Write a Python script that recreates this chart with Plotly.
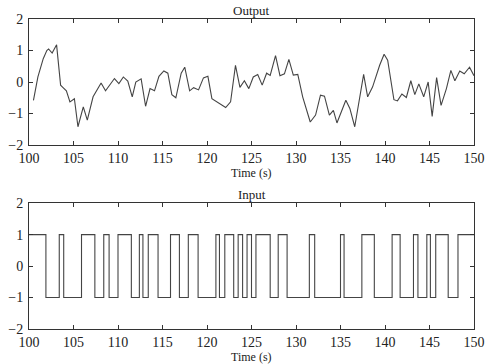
import plotly.graph_objects as go
from plotly.subplots import make_subplots

# Output signal
out_t = [100.5, 101.0, 101.6, 102.0, 102.2, 102.6, 103.1, 103.55, 103.8, 104.2, 104.6, 105.1,
         105.5, 106.1, 106.55, 107.2, 108.1, 108.6, 109.6, 110.1, 110.6, 111.1, 111.6, 112.0,
         112.6, 113.1, 113.6, 114.1, 114.6, 115.15, 115.6, 116.05, 116.5, 117.1, 117.5, 118.05,
         118.5, 119.05, 119.6, 120.1, 120.55, 122.1, 122.65, 123.2, 123.7, 124.2, 124.7, 125.2,
         125.7, 126.2, 126.7, 127.1, 127.7, 128.2, 128.7, 129.2, 129.7, 130.2, 130.75, 131.6,
         132.2, 132.75, 133.2, 133.75, 134.2, 134.6, 135.6, 136.05, 136.6, 137.6, 138.05, 138.6,
         139.4, 139.9, 140.3, 141.0, 141.4, 141.9, 142.4, 142.9, 143.35, 143.8, 144.35, 144.85,
         145.3, 145.8, 146.3, 146.9, 147.4, 147.85, 148.4, 148.9, 149.5, 150.0]
out_y = [-0.58, 0.16, 0.74, 1.0, 1.05, 0.92, 1.18, -0.1, -0.17, -0.28, -0.63, -0.53,
         -1.42, -0.79, -1.21, -0.47, -0.03, -0.28, 0.11, -0.05, 0.16, 0.03, -0.47, 0.0,
         0.1, -0.77, -0.21, -0.28, 0.18, 0.35, 0.28, -0.4, -0.5, 0.28, 0.47, -0.28,
         -0.18, -0.25, 0.13, 0.18, -0.53, -0.81, -0.63, 0.53, -0.17, 0.04, -0.21, 0.16,
         0.24, -0.1, 0.28, 0.21, 0.84, 0.2, 0.26, 0.72, 0.22, 0.24, -0.47, -1.27,
         -1.05, -0.42, -0.45, -1.05, -0.9, -1.3, -0.58, -0.84, -1.42, 0.24, -0.47, -0.16,
         0.53, 0.88, 0.69, -0.56, -0.6, -0.38, -0.49, 0.04, -0.4, -0.06, -0.47, 0.0,
         -1.09, 0.14, -0.74, -0.21, 0.37, 0.04, 0.35, 0.26, 0.47, 0.2]

# Input signal: switching times and levels (step-wise)
in_t = [100.0, 101.9, 103.4, 103.9, 105.9, 107.4, 108.4, 109.0, 110.0, 111.5, 112.4, 112.8,
        113.4, 114.5, 115.9, 116.9, 117.9, 119.0, 121.0, 121.4, 122.0, 123.0, 123.5, 124.0,
        124.5, 125.0, 125.5, 127.1, 128.0, 129.0, 131.5, 132.1, 135.0, 135.4, 137.4, 138.8,
        140.8, 141.7, 143.2, 143.7, 144.7, 145.1, 145.7, 147.1, 148.2, 150.0]
in_y = [1, -1, 1, -1, 1, -1, 1, -1, 1, -1, 1, -1,
        1, -1, 1, -1, 1, -1, 1, -1, 1, -1, 1, -1,
        1, -1, 1, -1, 1, -1, 1, -1, 1, -1, 1, -1,
        1, -1, 1, -1, 1, -1, 1, -1, 1, 1]

x_ticks = [100, 105, 110, 115, 120, 125, 130, 135, 140, 145, 150]
y_ticks = [-2, -1, 0, 1, 2]
titles = ["Output", "Input"]
xlabel = "Time (s)"

FONT = "Liberation Serif"
INK = "#333333"

fig = make_subplots(rows=2, cols=1)
fig.add_trace(go.Scatter(x=out_t, y=out_y, mode="lines",
                         line=dict(color="#444444", width=1.1)), row=1, col=1)
fig.add_trace(go.Scatter(x=in_t, y=in_y, mode="lines", line_shape="hv",
                         line=dict(color="#444444", width=1.1)), row=2, col=1)

axis_common = dict(showgrid=False, zeroline=False, showline=True, linecolor=INK,
                   linewidth=1, mirror="ticks", ticks="inside", ticklen=4,
                   tickcolor=INK, tickfont=dict(family=FONT, size=14, color="#222222"))

fig.update_xaxes(range=[100, 150], tickvals=x_ticks, ticklabeloverflow="allow",
                 ticklabelstandoff=0, **axis_common)
fig.update_yaxes(range=[-2, 2], tickvals=y_ticks, ticklabelstandoff=2, **axis_common)

fig.update_layout(
    width=493, height=364,
    margin=dict(l=21, r=8, t=19, b=35),
    paper_bgcolor="white", plot_bgcolor="white",
    showlegend=False,
    yaxis=dict(domain=[0.5935, 1.0]),
    yaxis2=dict(domain=[0.0, 0.406]),
)

for i, (xr, yr) in enumerate([("x", "y"), ("x2", "y2")]):
    fig.add_annotation(text=titles[i], x=0.5, y=1.0, xref=f"{xr} domain", yref=f"{yr} domain",
                       xanchor="center", yanchor="bottom", showarrow=False, yshift=-1,
                       font=dict(family=FONT, size=13, color="#222222"))
    fig.add_annotation(text=xlabel, x=0.5, y=0.0, xref=f"{xr} domain", yref=f"{yr} domain",
                       xanchor="center", yanchor="top", showarrow=False, yshift=-19,
                       font=dict(family=FONT, size=12, color="#222222"))

fig.write_html("out.html")
